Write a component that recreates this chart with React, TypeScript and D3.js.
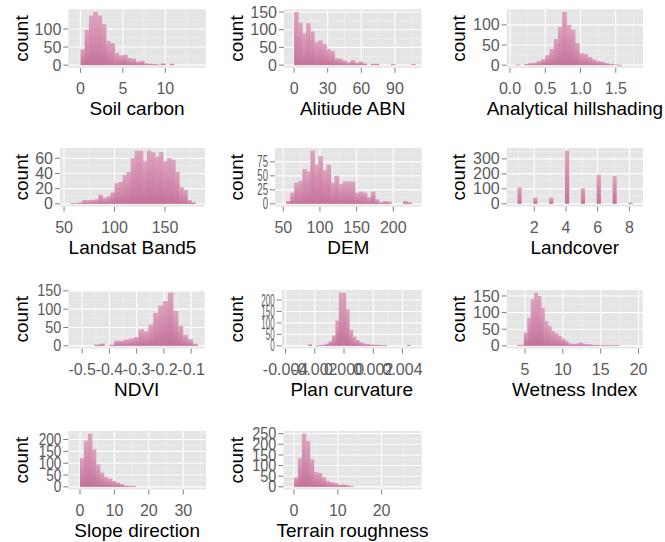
import React from "react";
import * as d3 from "d3";

// ---------- data ----------
const titles = [
  "Soil carbon", "Alitiude ABN", "Analytical hillshading",
  "Landsat Band5", "DEM", "Landcover",
  "NDVI", "Plan curvature", "Wetness Index",
  "Slope direction", "Terrain roughness",
];

const soilCarbonBins = { start: 0, width: 0.5 };
const soilCarbonCounts = [44, 98, 137, 147, 137, 113, 67, 61, 34, 27, 29, 20, 18, 10, 12, 5, 4, 3, 2, 5, 0, 4];

const altitudeBins = { start: 0, width: 3.6 };
const altitudeCounts = [150, 120, 90, 118, 95, 65, 70, 60, 45, 40, 20, 18, 13, 8, 14, 7, 10, 5, 0, 4, 4, 0, 0, 0, 3, 0, 0, 0, 0, 3];

const hillshadeBins = { start: 0.08, width: 0.06 };
const hillshadeCounts = [2, 0, 3, 5, 6, 10, 15, 25, 40, 65, 95, 132, 100, 88, 55, 30, 27, 20, 14, 10, 8, 5, 3, 2, 1];

const landsatBins = { start: 56, width: 4 };
const landsatCounts = [1, 1, 2, 5, 5, 5, 6, 12, 8, 10, 15, 27, 29, 38, 42, 60, 70, 70, 56, 70, 68, 62, 68, 56, 60, 58, 42, 22, 18, 5, 2];

const demBins = { start: 54, width: 5.5 };
const demCounts = [5, 20, 38, 41, 62, 58, 95, 70, 85, 60, 70, 38, 50, 35, 40, 40, 40, 20, 22, 20, 12, 22, 8, 3, 5, 4, 0, 0, 0, 5, 3];

const landcoverValues = [1, 2, 3, 4, 5, 6, 7, 8];
const landcoverCounts = [110, 42, 42, 355, 103, 194, 185, 9];

const ndviBins = { start: -0.455, width: 0.018 };
const ndviCounts = [4, 6, 0, 3, 14, 14, 17, 20, 24, 45, 40, 58, 90, 110, 122, 145, 95, 55, 30, 18, 6];

const planBins = { start: -0.00245, width: 0.000233 };
const planCounts = [7, 0, 2, 3, 5, 10, 20, 45, 110, 232, 232, 160, 70, 40, 25, 15, 10, 8, 6, 5, 4, 3, 3, 0, 0, 0, 0, 0, 0, 4];

const wetnessBins = { start: 3.95, width: 0.45 };
const wetnessCounts = [3, 3, 40, 85, 140, 160, 150, 115, 75, 60, 45, 38, 30, 22, 15, 8, 6, 7, 10, 7, 5, 5, 3, 3, 2, 2, 2, 2, 2, 2];

const slopeBins = { start: 0, width: 1.15 };
const slopeCounts = [122, 196, 225, 159, 95, 60, 42, 35, 25, 18, 12, 5, 4, 3];

const terrainBins = { start: 0, width: 0.9 };
const terrainCounts = [44, 135, 250, 215, 130, 70, 65, 45, 28, 22, 18, 10, 12, 8, 3];

// tick values
const xTicksList = [
  [0, 5, 10], [0, 30, 60, 90], [0, 0.5, 1, 1.5],
  [50, 100, 150], [50, 100, 150, 200], [2, 4, 6, 8],
  [-0.5, -0.4, -0.3, -0.2, -0.1], [-0.004, -0.002, 0, 0.002, 0.004], [5, 10, 15, 20],
  [0, 10, 20, 30], [0, 10, 20],
];
const xTickLabelsList = [
  ["0", "5", "10"], ["0", "30", "60", "90"], ["0.0", "0.5", "1.0", "1.5"],
  ["50", "100", "150"], ["50", "100", "150", "200"], ["2", "4", "6", "8"],
  ["-0.5", "-0.4", "-0.3", "-0.2", "-0.1"], ["-0.004", "-0.002", "0.000", "0.002", "0.004"], ["5", "10", "15", "20"],
  ["0", "10", "20", "30"], ["0", "10", "20"],
];
const yTicksList = [
  [0, 50, 100], [0, 50, 100, 150], [0, 50, 100],
  [0, 20, 40, 60], [0, 25, 50, 75], [0, 100, 200, 300],
  [0, 50, 100, 150], [0, 50, 100, 150, 200], [0, 50, 100, 150],
  [0, 50, 100, 150, 200], [0, 50, 100, 150, 200, 250],
];

// ---------- layout ----------
const W = 665, H = 542;
const FONT = "'Liberation Sans', Arial, Helvetica, sans-serif";
const rowTops = [9.3, 148, 290, 431];
const panelH = 58.5;
const countX = [27.5, 243, 465];
const panelLefts = [68.3, 284, 506.7, 60, 275, 506.7, 68.3, 281.7, 506.7, 68.3, 283.3];
const panelRights = [206, 421.5, 643, 205, 421.7, 643, 205, 421.7, 642.7, 206, 421.7];
const xDomains = [
  [-1.43, 14.8], [-9, 113.7], [-0.047, 1.886],
  [46, 189.6], [38.7, 238.8], [0.26, 8.86],
  [-0.551, -0.049], [-0.00426, 0.00531], [2.58, 20.55],
  [-3.4, 36.6], [-2.44, 29.15],
];
const yLabelSqueeze = [1, 1, 1, 1, 0.6, 1, 0.9, 0.5, 1, 0.85, 0.9];

type Bar = { x0: number; x1: number; count: number };

function fromBins(b: { start: number; width: number }, counts: number[]): Bar[] {
  return counts.map((c, i) => ({ x0: b.start + i * b.width, x1: b.start + (i + 1) * b.width, count: c }));
}

const barsList: Bar[][] = [
  fromBins(soilCarbonBins, soilCarbonCounts),
  fromBins(altitudeBins, altitudeCounts),
  fromBins(hillshadeBins, hillshadeCounts),
  fromBins(landsatBins, landsatCounts),
  fromBins(demBins, demCounts),
  landcoverValues.map((v, i) => ({ x0: v - 0.06, x1: v + 0.17, count: landcoverCounts[i] })),
  fromBins(ndviBins, ndviCounts),
  fromBins(planBins, planCounts),
  fromBins(wetnessBins, wetnessCounts),
  fromBins(slopeBins, slopeCounts),
  fromBins(terrainBins, terrainCounts),
];

function minors(ticks: number[], dom: number[]) {
  const out: number[] = [];
  const lo = Math.min(dom[0], dom[1]), hi = Math.max(dom[0], dom[1]);
  const step = ticks.length > 1 ? ticks[1] - ticks[0] : 1;
  const all = [ticks[0] - step, ...ticks, ticks[ticks.length - 1] + step];
  for (let i = 0; i < all.length - 1; i++) {
    const m = (all[i] + all[i + 1]) / 2;
    if (m > lo && m < hi) out.push(m);
  }
  return out;
}

function Panel({ i }: { i: number }) {
  const row = Math.floor(i / 3), col = i % 3;
  const top = rowTops[row];
  const bottom = top + panelH;
  const left = panelLefts[i], right = panelRights[i];
  const bars = barsList[i];
  const maxC = d3.max(bars, (b) => b.count) as number;
  const yDom = [-0.05 * maxC, 1.05 * maxC];
  const x = d3.scaleLinear().domain(xDomains[i]).range([left, right]);
  const y = d3.scaleLinear().domain(yDom).range([bottom, top]);
  const xt = xTicksList[i], yt = yTicksList[i];
  const xm = minors(xt, xDomains[i]);
  const ym = minors(yt, yDom);
  const sq = yLabelSqueeze[i];
  return (
    <g>
      <rect x={left} y={top} width={right - left} height={panelH} fill="#e5e5e5" />
      {xm.map((v, k) => (
        <line key={"xm" + k} x1={x(v)} x2={x(v)} y1={top} y2={bottom} stroke="#f2f2f2" strokeWidth={0.6} />
      ))}
      {ym.map((v, k) => (
        <line key={"ym" + k} x1={left} x2={right} y1={y(v)} y2={y(v)} stroke="#f2f2f2" strokeWidth={0.6} />
      ))}
      {xt.map((v, k) => (
        <line key={"xg" + k} x1={x(v)} x2={x(v)} y1={top} y2={bottom} stroke="#ffffff" strokeWidth={1.1} />
      ))}
      {yt.map((v, k) => (
        <line key={"yg" + k} x1={left} x2={right} y1={y(v)} y2={y(v)} stroke="#ffffff" strokeWidth={1.1} />
      ))}
      {bars.filter((b) => b.count > 0).map((b, k) => (
        <rect
          key={"b" + k}
          x={x(b.x0)}
          width={Math.max(0.5, x(b.x1) - x(b.x0) + 0.5)}
          y={y(b.count)}
          height={Math.max(0.8, y(0) - y(b.count))}
          fill="url(#barGrad)"
        />
      ))}
      {/* axis ticks */}
      {xt.map((v, k) => (
        <line key={"xt" + k} x1={x(v)} x2={x(v)} y1={bottom} y2={bottom + 5} stroke="#7f7f7f" strokeWidth={1} />
      ))}
      {yt.map((v, k) => (
        <line key={"yt" + k} x1={left - 5} x2={left} y1={y(v)} y2={y(v)} stroke="#7f7f7f" strokeWidth={1} />
      ))}
      {xt.map((v, k) => (
        <text key={"xl" + k} x={x(v)} y={bottom + 26} textAnchor="middle" fontSize={16} fill="#5a5a5a" fontFamily={FONT}>
          {xTickLabelsList[i][k]}
        </text>
      ))}
      {yt.map((v, k) => (
        <text
          key={"yl" + k}
          transform={`translate(${left - 7},${y(v) + 5.6}) scale(${sq},1)`}
          textAnchor="end"
          fontSize={16}
          fill="#5a5a5a"
          fontFamily={FONT}
        >
          {String(v)}
        </text>
      ))}
      <text x={(left + right) / 2} y={bottom + 47.5} textAnchor="middle" fontSize={19} fill="#000" fontFamily={FONT}>
        {titles[i]}
      </text>
      <text
        transform={`translate(${countX[col]},${(top + bottom) / 2}) rotate(-90)`}
        textAnchor="middle"
        fontSize={19}
        fill="#000"
        fontFamily={FONT}
      >
        count
      </text>
    </g>
  );
}

export default function App() {
  return (
    <svg width={W} height={H} style={{ position: "absolute", left: 0, top: 0, background: "#fff" }}>
      <defs>
        <linearGradient id="barGrad" x1="0" y1="0" x2="0" y2="1">
          <stop offset="0" stopColor="#dca3bd" />
          <stop offset="0.3" stopColor="#d694b3" />
          <stop offset="1" stopColor="#c4729b" />
        </linearGradient>
      </defs>
      <rect width={W} height={H} fill="#fff" />
      {titles.map((_, i) => (
        <Panel key={i} i={i} />
      ))}
    </svg>
  );
}
